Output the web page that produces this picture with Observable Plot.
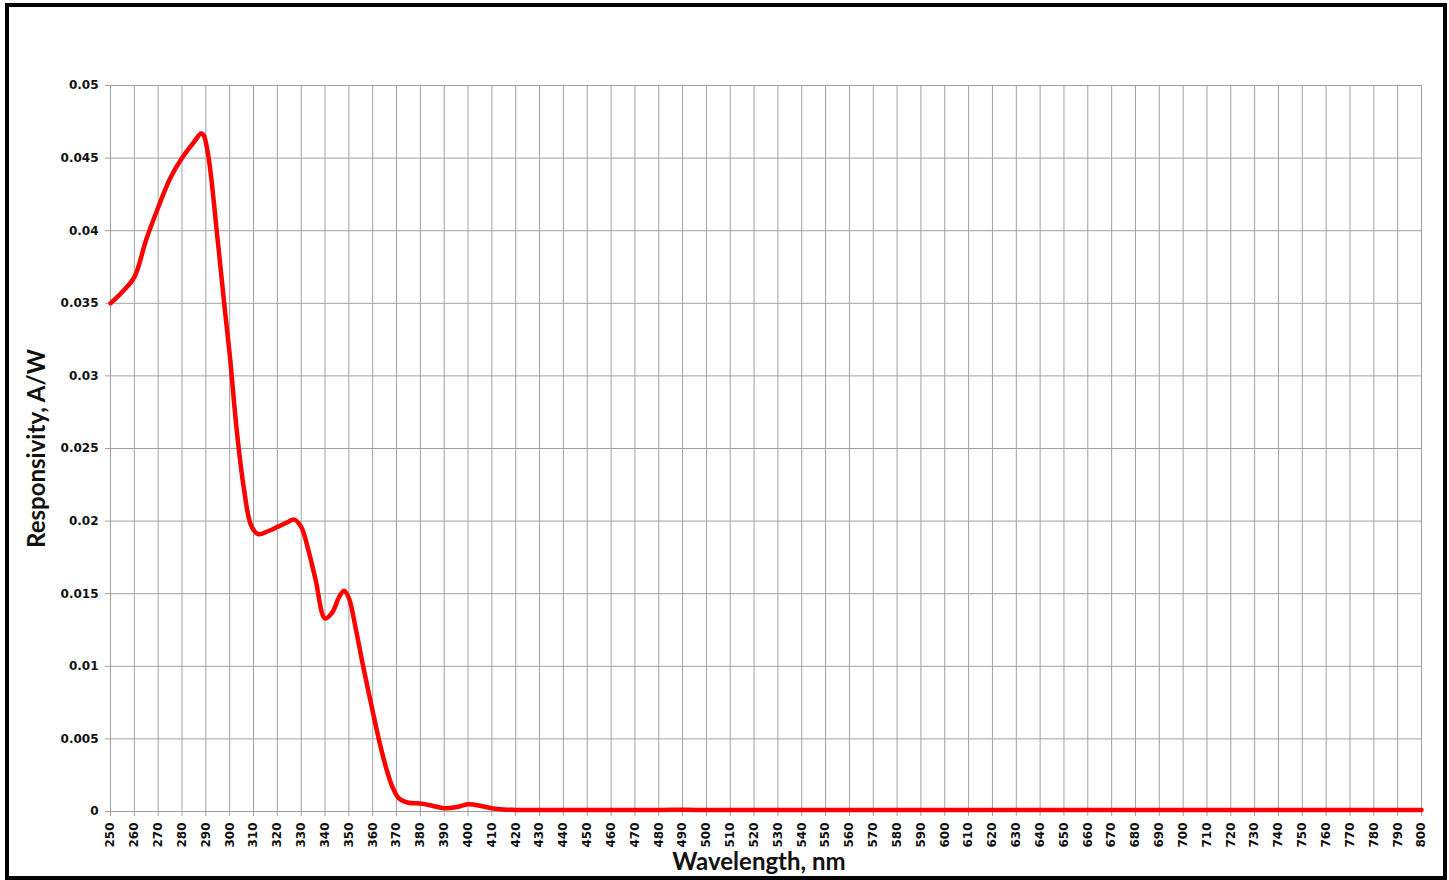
<!DOCTYPE html>
<html>
<head>
<meta charset="utf-8">
<script src="https://cdn.jsdelivr.net/npm/d3@7"></script>
<script src="https://cdn.jsdelivr.net/npm/@observablehq/plot@0.6"></script>
<style>
  html, body { margin: 0; padding: 0; background: #fff; }
  #wrap { position: relative; width: 1449px; height: 880px; overflow: hidden; }
  #frame { position: absolute; left: 5px; top: 3px; width: 1434px; height: 869px; border: 4px solid #000; box-sizing: content-box; pointer-events: none; }
  #chart { position: absolute; left: 0; top: 0; }
</style>
</head>
<body>
<div id="wrap">
  <div id="chart"></div>
  <div id="frame"></div>
</div>
<script>
// Wavelength (nm)
const wavelength = [250,255,260,265,270,275,280,285,288,289,291,295,298,300,303,306,309,312,316,320,324,327,330,333,336,340,343,346,348,350,353,356,360,364,368,371,375,380,385,390,395,400,405,410,415,420,430,440,450,460,470,480,490,500,510,520,530,540,550,560,570,580,590,600,610,620,630,640,650,660,670,680,690,700,710,720,730,740,750,760,770,780,790,800];
// Responsivity (A/W)
const responsivity = [0.0350,0.0358,0.0368,0.0394,0.0416,0.0436,0.0450,0.0461,0.0467,0.0466,0.0452,0.0393,0.0345,0.0315,0.0262,0.0222,0.0197,0.0191,0.0193,0.0196,0.0199,0.0201,0.0196,0.0180,0.0160,0.0133,0.0137,0.0148,0.0152,0.0147,0.0125,0.0100,0.0069,0.0040,0.0018,0.0009,0.0006,0.00055,0.0004,0.00022,0.0003,0.0005,0.0004,0.00022,0.00013,0.00011,0.0001,0.00011,0.0001,0.0001,0.00011,0.00011,0.00012,0.0001,0.0001,0.0001,0.0001,0.0001,0.00011,0.00011,0.0001,0.0001,0.0001,0.0001,0.0001,0.0001,0.0001,0.00011,0.00011,0.0001,0.0001,0.0001,0.0001,0.0001,0.0001,0.0001,0.0001,0.0001,0.0001,0.0001,0.0001,0.0001,0.0001,0.0001];
const xTicks = d3.range(250, 801, 10);
const yTicks = [0, 0.005, 0.01, 0.015, 0.02, 0.025, 0.03, 0.035, 0.04, 0.045, 0.05];
const yTickLabels = ["0","0.005","0.01","0.015","0.02","0.025","0.03","0.035","0.04","0.045","0.05"];
const xTitle = "Wavelength, nm";
const yTitle = "Responsivity, A/W";

const data = wavelength.map((w, i) => ({w, r: responsivity[i]}));

const tickFont = "DejaVu Sans, Verdana, sans-serif";
const titleFont = "Lato, 'Open Sans', sans-serif";

const chart = Plot.plot({
  width: 1449,
  height: 880,
  marginLeft: 110,
  marginRight: 28,
  marginTop: 85,
  marginBottom: 69,
  style: {background: "#fff", fontFamily: tickFont},
  x: {domain: [250, 800], ticks: xTicks, label: null},
  y: {domain: [0, 0.05], ticks: yTicks, label: null},
  marks: [
    Plot.gridX(xTicks, {stroke: "#a0a0a0", strokeOpacity: 1, strokeWidth: 1}),
    Plot.gridY(yTicks, {stroke: "#a0a0a0", strokeOpacity: 1, strokeWidth: 1}),
    Plot.axisX(xTicks, {
      tickSize: 5, tickPadding: 6, tickRotate: -90, stroke: "#a0a0a0", color: "#111",
      fontSize: 12, fontWeight: "bold", label: null, tickFormat: d => String(d)
    }),
    Plot.axisY(yTicks, {
      tickSize: 5, tickPadding: 7, stroke: "#a0a0a0", color: "#111",
      fontSize: 12, fontWeight: "bold", label: null,
      tickFormat: d => yTickLabels[yTicks.indexOf(d)]
    }),
    Plot.line(data, {x: "w", y: "r", stroke: "#ff0000", strokeWidth: 4.5, curve: "catmull-rom", strokeLinejoin: "round", strokeLinecap: "round"}),
    Plot.text([xTitle], {frameAnchor: "bottom", dy: 51, dx: -7, text: d => d, fontSize: 24, fontWeight: "bold", fontFamily: titleFont, fill: "#111", lineAnchor: "middle", textAnchor: "middle"}),
    Plot.text([yTitle], {frameAnchor: "left", dx: -73, rotate: -90, text: d => d, fontSize: 24, fontWeight: "bold", fontFamily: titleFont, fill: "#111", lineAnchor: "middle", textAnchor: "middle"})
  ]
});
document.getElementById("chart").appendChild(chart);
</script>
</body>
</html>
